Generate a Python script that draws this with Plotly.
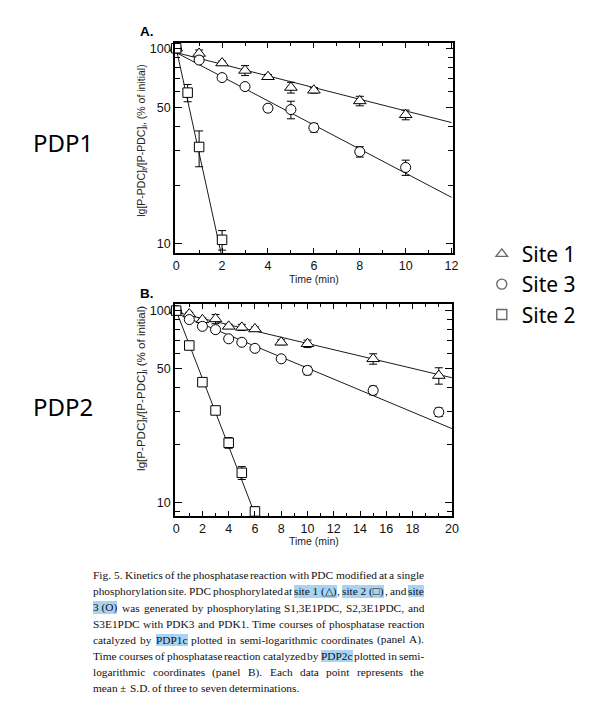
import re
import plotly.graph_objects as go

# page is drawn with an 8px body margin; figure sized to fit the 605x720 window
OFF = 8
W, H = 605 - OFF, 720 - OFF

# ---------------- data: panel A (PDP1c) ----------------
tA_site1 = [0, 1, 2, 3, 4, 5, 6, 8, 10]
yA_site1 = [100, 94, 84, 77, 71.5, 63, 61, 53.8, 45.7]
eA_site1 = [0, 4, 2, 4.5, 2, 4, 2, 3, 2.6]

tA_site3 = [0, 1, 2, 3, 4, 5, 6, 8, 10]
yA_site3 = [100, 87, 70.8, 63.7, 49.4, 48.6, 39.3, 29.6, 24.6]
eA_site3 = [0, 2, 1.5, 2, 2, 5, 2, 1.8, 2.2]

tA_site2 = [0, 0.5, 1, 2]
yA_site2 = [100, 59.3, 31.3, 10.5]
eA_site2 = [0, 6, 6.5, 1.2]

fitA_t1 = [0, 12]
fitA_y1 = [95, 41.7]
fitA_t3 = [0, 12]
fitA_y3 = [95, 17.3]
fitA_t2 = [0, 2]
fitA_y2 = [100, 8.5]

# ---------------- data: panel B (PDP2c) ----------------
tB_site1 = [0, 1, 2, 3, 4, 5, 6, 8, 10, 15, 20]
yB_site1 = [100, 96, 89.5, 90.5, 82.8, 81.8, 80.2, 68.4, 67.2, 56.1, 45.9]
eB_site1 = [0, 2, 2, 5, 2, 3, 2, 2, 3, 3.5, 4.5]

tB_site3 = [0, 1, 2, 3, 4, 5, 6, 8, 10, 15, 20]
yB_site3 = [100, 89.8, 82.8, 79.6, 71.3, 68.4, 63.6, 56.1, 48.8, 38.4, 29.6]
eB_site3 = [0, 1.5, 1.5, 1.5, 1.5, 1.5, 1.5, 1.5, 2.5, 2, 1.5]

tB_site2 = [0, 1, 2, 3, 4, 5, 6]
yB_site2 = [100, 65.8, 42.4, 30.2, 20.5, 14.3, 9.0]
eB_site2 = [0, 1.5, 1.5, 1, 1.3, 1.1, 0.5]

fitB_t1 = [0, 21]
fitB_y1 = [98, 44.7]
fitB_t3 = [0, 21]
fitB_y3 = [97, 24.3]
fitB_t2 = [0, 6]
fitB_y2 = [100, 8.7]

# ---------------- ticks ----------------
xA_ticks = [0, 2, 4, 6, 8, 10, 12]
xA_ticktext = ["0", "2", "4", "6", "8", "10", "12"]
xA_minor = [1, 3, 5, 7, 9, 11]
xB_ticks = [0, 2, 4, 6, 8, 10, 12, 14, 16, 18, 21]
xB_ticktext = ["0", "2", "4", "6", "8", "10", "12", "14", "16", "18", "20"]
xB_minor = [1, 3, 5, 7, 9, 11, 13, 15, 17, 19, 20]
y_ticks = [10, 50, 100]
y_ticktext = ["10", "50", "100"]
y_minor = [9, 20, 30, 40, 60, 70, 80, 90]

legend_names = ["Site 1", "Site 3", "Site 2"]
legend_symbols = ["triangle-up-open", "circle-open", "square-open"]

caption_lines = [
    "Fig. 5. Kinetics of the phosphatase reaction with PDC modified at a single",
    "phosphorylation site. PDC phosphorylated at [site 1 (\u25b3)], [site 2 (\u25a1)], and [site]",
    "[3 (O)] was generated by phosphorylating S1,3E1PDC, S2,3E1PDC, and",
    "S3E1PDC with PDK3 and PDK1. Time courses of phosphatase reaction",
    "catalyzed by [PDP1c] plotted in semi-logarithmic coordinates (panel A).",
    "Time courses of phosphatase reaction catalyzed by [PDP2c] plotted in semi-",
    "logarithmic coordinates (panel B). Each data point represents the",
    "mean \u00b1 S.D. of three to seven determinations.",
]

# ---------------- helpers ----------------
def px(x):
    return (x - OFF) / W

def py(y):
    return 1 - (y - OFF) / H

fig = go.Figure()

def add_panel(xa, ya, series, fits):
    for (ft, fy) in fits:
        fig.add_trace(go.Scatter(x=ft, y=fy, mode="lines", xaxis=xa, yaxis=ya,
                                 line=dict(color="black", width=0.9),
                                 showlegend=False, hoverinfo="skip"))
    for (t, y, e, sym, sz) in series:
        fig.add_trace(go.Scatter(
            x=t, y=y, mode="markers", xaxis=xa, yaxis=ya, showlegend=False,
            cliponaxis=False,
            marker=dict(symbol=sym, size=sz, color="white",
                        line=dict(color="black", width=1)),
            error_y=dict(type="data", array=e, color="black",
                         thickness=1, width=4)))

add_panel("x", "y",
          [(tA_site1, yA_site1, eA_site1, "triangle-up", 11),
           (tA_site3, yA_site3, eA_site3, "circle", 10),
           (tA_site2, yA_site2, eA_site2, "square", 9.5)],
          [(fitA_t1, fitA_y1), (fitA_t3, fitA_y3), (fitA_t2, fitA_y2)])
add_panel("x2", "y2",
          [(tB_site1, yB_site1, eB_site1, "triangle-up", 11),
           (tB_site3, yB_site3, eB_site3, "circle", 10),
           (tB_site2, yB_site2, eB_site2, "square", 9.5)],
          [(fitB_t1, fitB_y1), (fitB_t3, fitB_y3), (fitB_t2, fitB_y2)])

for name, sym in zip(legend_names, legend_symbols):
    fig.add_trace(go.Scatter(x=[None], y=[None], mode="markers", name=name,
                             marker=dict(symbol=sym, size=10, color="#6a6a6a",
                                         line=dict(width=1.4))))

tickfont = dict(family="Liberation Sans, Arial", size=12.5, color="#111")
common_x = dict(ticks="inside", ticklen=5, tickwidth=1, tickcolor="black",
                showline=True, linewidth=2, linecolor="black", mirror="allticks",
                showgrid=False, zeroline=False, tickfont=tickfont)
common_y = dict(type="log", ticks="inside", ticklen=7, tickwidth=1, tickcolor="black",
                showline=True, linewidth=2, linecolor="black", mirror="allticks",
                showgrid=False, zeroline=False, tickfont=tickfont,
                tickmode="array", tickvals=y_ticks, ticktext=y_ticktext,
                minor=dict(tickmode="array", tickvals=y_minor, ticks="inside",
                           ticklen=5, tickwidth=1, tickcolor="black", showgrid=False))

fig.update_layout(
    width=W, height=H, margin=dict(l=0, r=0, t=0, b=0),
    paper_bgcolor="white", plot_bgcolor="white",
    xaxis=dict(domain=[px(175.7), px(457.5)], anchor="y", range=[-0.043, 12.05],
               tickmode="array", tickvals=xA_ticks, ticktext=xA_ticktext,
               minor=dict(tickmode="array", tickvals=xA_minor, ticks="inside",
                          ticklen=3, tickwidth=1, tickcolor="black", showgrid=False),
               **common_x),
    yaxis=dict(domain=[py(252.7), py(42)], anchor="x", range=[0.952, 2.027], **common_y),
    xaxis2=dict(domain=[px(175.7), px(456.7)], anchor="y2", range=[-0.075, 21.0],
                tickmode="array", tickvals=xB_ticks, ticktext=xB_ticktext,
                minor=dict(tickmode="array", tickvals=xB_minor, ticks="inside",
                           ticklen=3, tickwidth=1, tickcolor="black", showgrid=False),
                **common_x),
    yaxis2=dict(domain=[py(516), py(303.3)], anchor="x2", range=[0.929, 2.035], **common_y),
    showlegend=True,
    legend=dict(x=px(487), y=py(233), xanchor="left", yanchor="top",
                font=dict(family="Noto Sans", size=21, color="black"),
                itemwidth=30, bgcolor="rgba(0,0,0,0)", tracegroupgap=0),
)

ann = []
ytitle_font_a = dict(family="Liberation Sans, Arial", size=10.5, color="#222")
ytitle_font_b = dict(family="Liberation Sans, Arial", size=11.6, color="#222")
xtitle_font = dict(family="Liberation Sans, Arial", size=10.5, color="#222")
ann.append(dict(x=px(142), y=py(140), text="lg[P-PDC]<sub>t</sub>/[P-PDC]<sub>i</sub>, (% of initial)",
                textangle=-90, font=ytitle_font_a))
ann.append(dict(x=px(142), y=py(387.5), text="lg[P-PDC]<sub>t</sub>/[P-PDC]<sub>i</sub> (% of initial)",
                textangle=-90, font=ytitle_font_b))
ann.append(dict(x=px(316.5), y=py(278.5), text="Time (min)", font=xtitle_font))
ann.append(dict(x=px(316.5), y=py(541), text="Time (min)", font=xtitle_font))
lab_font = dict(family="Liberation Sans, Arial", size=13.5, color="black")
ann.append(dict(x=px(147.5), y=py(30.5), text="<b>A.</b>", font=lab_font))
ann.append(dict(x=px(147.5), y=py(293), text="<b>B.</b>", font=lab_font))
side_font = dict(family="Noto Sans", size=24, color="black")
ann.append(dict(x=px(62), y=py(142), text="PDP1", font=side_font))
ann.append(dict(x=px(62), y=py(406), text="PDP2", font=side_font))

# ---------------- caption (justified, word by word) ----------------
CW = dict(a=444, b=500, c=444, d=500, e=444, f=333, g=500, h=500, i=278, j=278, k=500,
          l=278, m=778, n=500, o=500, p=500, q=500, r=333, s=389, t=278, u=500, v=500,
          w=722, x=500, y=500, z=444, A=722, B=667, C=667, D=722, E=611, F=556, G=722,
          H=722, I=333, J=389, K=722, L=611, M=889, N=722, O=722, P=556, Q=722, R=667,
          S=556, T=611, U=722, V=722, W=944, X=722, Y=722, Z=611)
CW.update({" ": 250, ".": 250, ",": 250, "(": 333, ")": 333, "-": 333, "\u00b1": 564,
           "\u25b3": 800, "\u25a1": 800})
for dgt in "0123456789":
    CW[dgt] = 500

CAP_FS = 11.35
CAP_LEFT, CAP_RIGHT = 92.7, 428.0
CAP_TOP, CAP_STEP = 575.0, 16.2
cap_font = dict(family="Liberation Serif, Times New Roman", size=CAP_FS, color="#111")
HL = "#a8d3f4"

def tw(s):
    return sum(CW.get(ch, 500) for ch in s) * CAP_FS / 1000.0

for li, line in enumerate(caption_lines):
    toks = []
    prev_end = None
    for m in re.finditer(r"\[[^\]]+\]|[^\s\[]+", line):
        txt = m.group(0)
        hl = txt.startswith("[")
        if hl:
            txt = txt[1:-1]
        join = prev_end is not None and m.start() == prev_end
        toks.append((txt, hl, join))
        prev_end = m.end()
    widths = [tw(t[0]) for t in toks]
    ngaps = sum(1 for t in toks[1:] if not t[2])
    last = li == len(caption_lines) - 1
    gap = tw(" ") if last else (CAP_RIGHT - CAP_LEFT - sum(widths)) / max(ngaps, 1)
    x = CAP_LEFT
    yc = CAP_TOP + li * CAP_STEP
    for k, ((txt, hl, join), w) in enumerate(zip(toks, widths)):
        if k > 0 and not join:
            x += gap
        a = dict(x=px(x), y=py(yc), text=txt, xanchor="left",
                 font=cap_font, borderpad=0, borderwidth=0)
        if hl:
            a["bgcolor"] = HL
        ann.append(a)
        x += w

for a in ann:
    a.setdefault("xref", "paper")
    a.setdefault("yref", "paper")
    a.setdefault("xanchor", "center")
    a.setdefault("yanchor", "middle")
    a.setdefault("showarrow", False)
fig.update_layout(annotations=ann)

fig.write_html("out.html")
